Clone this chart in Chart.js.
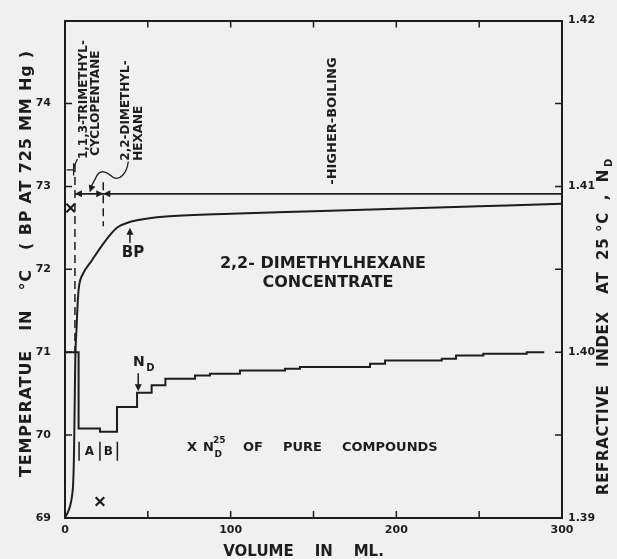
<!DOCTYPE html>
<html>
<head>
<meta charset="utf-8">
<script src="https://cdn.jsdelivr.net/npm/chart.js@4.4.0/dist/chart.umd.min.js"></script>
<style>
  html, body { margin: 0; padding: 0; background: #f0f0f0; }
  #wrap { width: 617px; height: 559px; }
</style>
</head>
<body>
<div id="wrap"><canvas id="myChart" width="617" height="559"></canvas></div>
<script>
// boiling point of the distillate (left axis, deg C)
var bpVolume = [0, 1.5, 3, 4.2, 5, 5.4, 5.8, 6.2, 7, 7.8, 8.5, 11, 16, 21, 27, 32, 39, 49, 63, 100, 150, 200, 250, 300];
var bpTemp = [69.0, 69.06, 69.14, 69.26, 69.45, 69.75, 70.3, 70.9, 71.3, 71.65, 71.8, 71.95, 72.1, 72.25, 72.41, 72.51, 72.57, 72.61, 72.64, 72.67, 72.70, 72.73, 72.76, 72.79];

// refractive index of the fractions (right axis), each value holds until the next volume
var ndVolume = [0, 8.2, 21.1, 31.4, 43.5, 52.3, 60.6, 78.5, 87.5, 105.6, 132.8, 141.8, 184.1, 193.2, 227.4, 236.0, 252.5, 278.7, 289.3];
var ndValue = [1.4000, 1.3954, 1.3952, 1.3967, 1.39755, 1.3980, 1.3984, 1.3986, 1.3987, 1.3989, 1.3990, 1.3991, 1.3993, 1.3995, 1.3996, 1.3998, 1.3999, 1.4000, 1.4000];

// N 25 D of the pure compounds
var pureVolume = [3.4, 21.1];
var pureNd = [1.4087, 1.3910];

// cut points and the higher-boiling marker line
var cutVolume = [6, 23.1];
var cutTop = [73.27, 73.05];
var cutBottom = [71.0, 72.52];
var higherBoilingTemp = 72.91;

// tick labels
var xTicks = [0, 100, 200, 300];
var tempTicks = [69, 70, 71, 72, 73, 74];
var ndTicks = ['1.39', '1.40', '1.41', '1.42'];

var ink = '#1d1d1d';
var paper = '#f0f0f0';
var family = '"DejaVu Sans", sans-serif';

function font(size, weight) {
    return (weight || 'bold') + ' ' + size + 'px ' + family;
}

function pairs(xs, ys) {
    return xs.map(function (v, i) { return {x: v, y: ys[i]}; });
}

// squeeze/stretch a string to a given length with letter spacing
function fitText(c, s, width) {
    c.letterSpacing = '0px';
    var w = c.measureText(s).width;
    c.letterSpacing = ((width - w) / s.length) + 'px';
}

function vtext(c, s, x, y, size) {
    c.save();
    c.translate(x, y);
    c.rotate(-Math.PI / 2);
    c.font = font(size);
    c.textAlign = 'left';
    c.textBaseline = 'middle';
    c.fillText(s, 0, 0);
    c.restore();
}

function text(c, s, x, y, size, align) {
    c.font = font(size);
    c.textAlign = align || 'center';
    c.textBaseline = 'middle';
    c.fillText(s, x, y);
}

function arrowHead(c, x, y, dx, dy) {
    var len = 7, half = 3.5;
    c.beginPath();
    c.moveTo(x, y);
    c.lineTo(x - dx * len - dy * half, y - dy * len + dx * half);
    c.lineTo(x - dx * len + dy * half, y - dy * len - dx * half);
    c.closePath();
    c.fill();
}

var decor = {
    id: 'decor',
    beforeDraw: function (chart) {
        var c = chart.ctx;
        c.save();
        c.fillStyle = paper;
        c.fillRect(0, 0, chart.width, chart.height);
        c.restore();
    },
    afterDraw: function (chart) {
        var c = chart.ctx, a = chart.chartArea, s = chart.scales;
        var X = function (v) { return s.x.getPixelForValue(v); };
        var T = function (v) { return s.y.getPixelForValue(v); };
        c.save();
        c.strokeStyle = ink;
        c.fillStyle = ink;

        // inward tick marks
        c.lineWidth = 1.5;
        c.beginPath();
        s.x.ticks.forEach(function (t) {
            if (t.value <= s.x.min || t.value >= s.x.max) return;
            var p = X(t.value);
            c.moveTo(p, a.bottom); c.lineTo(p, a.bottom - 7);
            c.moveTo(p, a.top); c.lineTo(p, a.top + 7);
        });
        s.y.ticks.forEach(function (t) {
            if (t.value <= s.y.min || t.value >= s.y.max) return;
            var p = T(t.value);
            c.moveTo(a.left, p); c.lineTo(a.left + 7, p);
        });
        s.y1.ticks.forEach(function (t) {
            if (t.value <= s.y1.min + 1e-9 || t.value >= s.y1.max - 1e-9) return;
            var p = s.y1.getPixelForValue(t.value);
            c.moveTo(a.right, p); c.lineTo(a.right - 7, p);
        });
        c.stroke();

        // arrows on the cut line
        var yl = T(higherBoilingTemp);
        arrowHead(c, X(cutVolume[0]), yl, -1, 0);
        arrowHead(c, X(cutVolume[1]), yl, 1, 0);
        arrowHead(c, X(cutVolume[1]), yl, -1, 0);

        // BP arrow
        c.lineWidth = 1.5;
        c.beginPath();
        c.moveTo(X(39.2), T(72.32));
        c.lineTo(X(39.2), T(72.47));
        c.stroke();
        arrowHead(c, X(39.2), T(72.50), 0, -1);
        text(c, 'BP', X(41), T(72.19), 15);

        // ND arrow
        c.beginPath();
        c.moveTo(X(44.2), T(70.745));
        c.lineTo(X(44.2), T(70.56));
        c.stroke();
        arrowHead(c, X(44.2), T(70.53), 0, 1);
        text(c, 'N', X(41), T(70.88), 14, 'left');
        text(c, 'D', X(49), T(70.81), 10, 'left');

        // fraction marks |A|B|
        c.beginPath();
        [8.5, 21.1, 31.6].forEach(function (v) {
            c.moveTo(X(v), T(69.92)); c.lineTo(X(v), T(69.69));
        });
        c.stroke();
        text(c, 'A', X(14.7), T(69.8), 12);
        text(c, 'B', X(26.1), T(69.8), 12);

        // main label
        text(c, '2,2- DIMETHYLHEXANE', X(155.7), T(72.06), 16);
        text(c, 'CONCENTRATE', X(158.7), T(71.84), 16);

        // legend for the X marks
        text(c, 'X', X(76.7), T(69.85), 13);
        text(c, 'N', X(83.3), T(69.85), 13, 'left');
        text(c, '25', X(89.3), T(69.93), 9, 'left');
        text(c, 'D', X(90.3), T(69.765), 9, 'left');
        text(c, 'OF', X(107.4), T(69.85), 13, 'left');
        text(c, 'PURE', X(131.6), T(69.85), 13, 'left');
        text(c, 'COMPOUNDS', X(167.2), T(69.85), 13, 'left');

        // rotated compound labels
        vtext(c, '1,1,3-TRIMETHYL-', X(11.5), T(73.33), 12);
        vtext(c, 'CYCLOPENTANE', X(18.8), T(73.37), 12);
        vtext(c, '2,2-DIMETHYL-', X(36.8), T(73.31), 12);
        vtext(c, 'HEXANE', X(44.6), T(73.31), 12);
        vtext(c, '-HIGHER-BOILING', X(161.8), T(73.02), 13);

        // curly leader to the 2,2-dimethylhexane cut
        c.lineWidth = 1.3;
        c.beginPath();
        c.moveTo(X(38.2), T(73.30));
        c.bezierCurveTo(X(37.4), T(73.16), X(33), T(73.06), X(29), T(73.11));
        c.bezierCurveTo(X(25), T(73.18), X(21), T(73.22), X(18.5), T(73.10));
        c.lineTo(X(15.6), T(72.99));
        c.stroke();
        arrowHead(c, X(14.9), T(72.93), -0.35, 0.94);

        // small hook at the trimethylcyclopentane label
        c.beginPath();
        c.moveTo(X(7.5), T(73.33));
        c.quadraticCurveTo(X(6.2), T(73.28), X(5.2), T(73.21));
        c.moveTo(X(5.2), T(73.28));
        c.lineTo(X(5.2), T(73.13));
        c.moveTo(X(5.2), T(73.2));
        c.lineTo(X(1.0), T(73.2));
        c.stroke();

        // axis titles
        c.font = font(16);
        c.textBaseline = 'middle';
        c.textAlign = 'left';
        c.save();
        c.translate(26.5, a.bottom - 41);
        c.rotate(-Math.PI / 2);
        var lt = 'TEMPERATUE   IN   \u00b0C   ( BP AT 725 MM Hg )';
        fitText(c, lt, 427);
        c.fillText(lt, 0, 0);
        c.restore();

        c.save();
        c.translate(604, a.bottom - 23);
        c.rotate(-Math.PI / 2);
        c.font = font(15);
        var rt = 'REFRACTIVE   INDEX   AT  25 \u00b0C  ,  N';
        fitText(c, rt, 326);
        c.fillText(rt, 0, 0);
        c.letterSpacing = '0px';
        c.font = font(10);
        c.fillText('D', 328, 5);
        c.restore();

        c.font = font(15);
        c.textAlign = 'center';
        c.letterSpacing = '0px';
        c.fillText('VOLUME    IN    ML.', X(144), a.bottom + 34);
        c.restore();
    }
};

var tickFont = {family: family, size: 11, weight: 'bold'};
var noGrid = {display: false, drawTicks: false};
var frame = {display: true, color: ink, width: 2};

var ctx = document.getElementById('myChart').getContext('2d');
var chart = new Chart(ctx, {
    type: 'line',
    data: {
        datasets: [{
                label: 'BP',
                data: pairs(bpVolume, bpTemp),
                yAxisID: 'y',
                borderColor: ink,
                borderWidth: 2,
                pointRadius: 0,
                cubicInterpolationMode: 'monotone'
            }, {
                label: 'ND',
                data: pairs(ndVolume, ndValue),
                yAxisID: 'y1',
                borderColor: ink,
                borderWidth: 2,
                pointRadius: 0,
                stepped: true
            }, {
                label: 'higher boiling',
                data: [{x: cutVolume[0], y: higherBoilingTemp}, {x: 300, y: higherBoilingTemp}],
                yAxisID: 'y',
                borderColor: ink,
                borderWidth: 1.8,
                pointRadius: 0
            }, {
                label: 'cut 1',
                data: [{x: cutVolume[0], y: cutTop[0]}, {x: cutVolume[0], y: cutBottom[0]}],
                yAxisID: 'y',
                borderColor: ink,
                borderWidth: 1.5,
                borderDash: [8, 5],
                pointRadius: 0
            }, {
                label: 'cut 2',
                data: [{x: cutVolume[1], y: cutTop[1]}, {x: cutVolume[1], y: cutBottom[1]}],
                yAxisID: 'y',
                borderColor: ink,
                borderWidth: 1.5,
                borderDash: [8, 5],
                pointRadius: 0
            }, {
                label: 'pure',
                data: pairs(pureVolume, pureNd),
                yAxisID: 'y1',
                showLine: false,
                pointStyle: 'crossRot',
                pointRadius: 6,
                borderColor: ink,
                borderWidth: 2.2
            }]
    },
    options: {
        responsive: false,
        animation: false,
        devicePixelRatio: 1,
        layout: {padding: {top: 16, left: 0, right: 0, bottom: 0}},
        plugins: {legend: {display: false}, tooltip: {enabled: false}},
        scales: {
            x: {
                type: 'linear', position: 'bottom', min: 0, max: 300,
                grid: noGrid, border: frame,
                ticks: {
                    stepSize: 50, autoSkip: false, maxRotation: 0, padding: 6,
                    color: ink, font: tickFont,
                    callback: function (v) { return xTicks.indexOf(v) >= 0 ? String(v) : ''; }
                },
                afterFit: function (sc) { sc.height = 41; }
            },
            x2: {
                type: 'linear', position: 'top', min: 0, max: 300,
                grid: noGrid, border: frame,
                ticks: {display: false},
                afterFit: function (sc) { sc.height = 0; }
            },
            y: {
                type: 'linear', position: 'left', min: 69, max: 75,
                grid: noGrid, border: frame,
                ticks: {
                    stepSize: 1, autoSkip: false, padding: 14,
                    color: ink, font: tickFont,
                    callback: function (v) { return tempTicks.indexOf(v) >= 0 ? String(v) : ''; }
                },
                afterFit: function (sc) { sc.width = 65; }
            },
            y1: {
                type: 'linear', position: 'right', min: 1.39, max: 1.42,
                grid: noGrid, border: frame,
                ticks: {
                    stepSize: 0.005, autoSkip: false, padding: 6,
                    color: ink, font: tickFont,
                    callback: function (v) {
                        var lab = v.toFixed(3);
                        return lab.slice(-1) === '0' ? ndTicks[ndTicks.indexOf(v.toFixed(2))] || '' : '';
                    }
                },
                afterFit: function (sc) { sc.width = 55; }
            }
        }
    },
    plugins: [decor]
});
</script>
</body>
</html>
